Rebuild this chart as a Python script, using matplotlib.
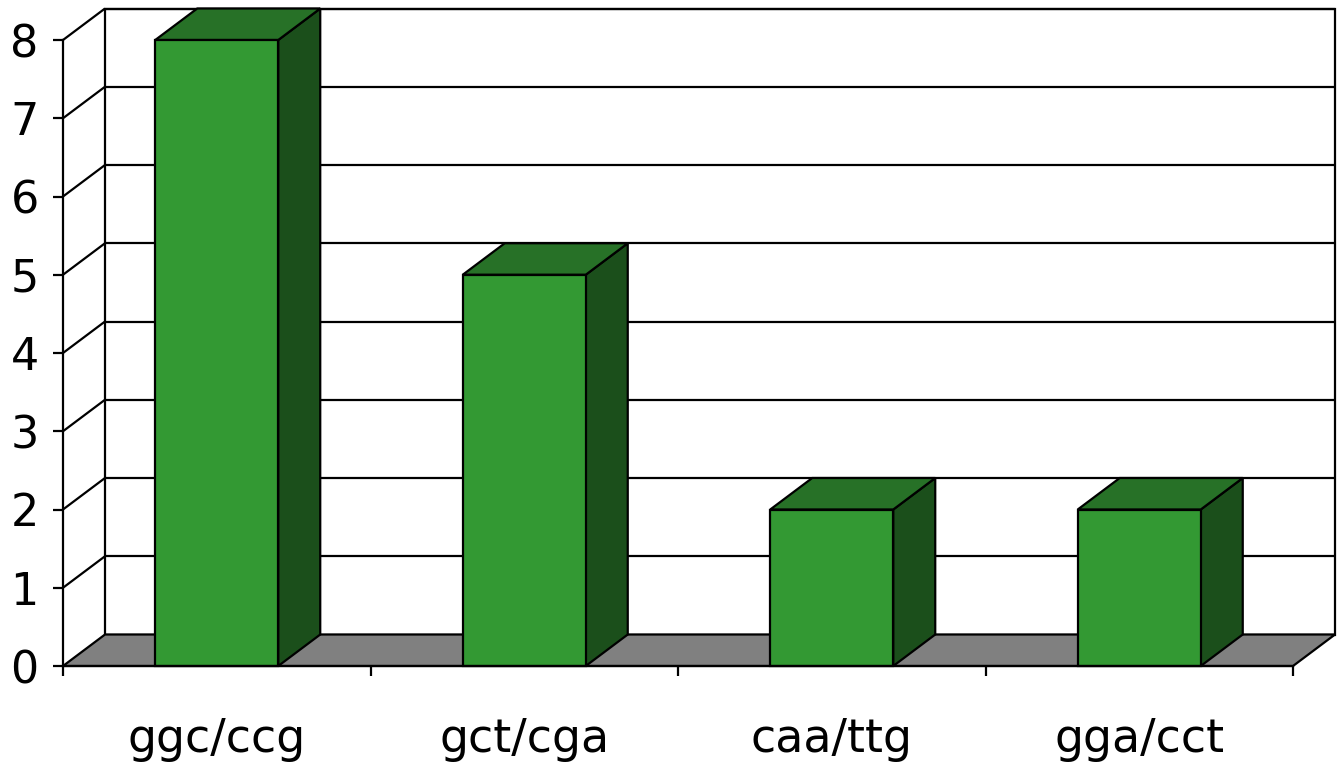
import matplotlib
matplotlib.use("Agg")
import matplotlib.pyplot as plt
from matplotlib.patches import Polygon

categories = ["ggc/ccg", "gct/cga", "caa/ttg", "gga/cct"]
values = [8, 5, 2, 2]
y_ticks = [0, 1, 2, 3, 4, 5, 6, 7, 8]

FRONT = "#339933"
TOP = "#277127"
SIDE = "#1b4f1b"
FLOOR = "#808080"
LW = 1.6

W, H = 1340, 765
fig = plt.figure(figsize=(W / 100, H / 100), dpi=100)
fig.patch.set_facecolor("white")

# axes occupy the front plane of the 3-D box
left, right, bottom, top = 63, 1293, 666, 40
ax = fig.add_axes([left / W, 1 - bottom / H, (right - left) / W, (bottom - top) / H])
n = len(categories)
ymax = max(y_ticks)
ax.set_xlim(0, n)
ax.set_ylim(0, ymax)
ax.set_facecolor("none")

# depth offset of the back wall, in data units
dx = 42 / ((right - left) / n)
dy = 31.5 / ((bottom - top) / ymax)

def poly(pts, fc, z, ec="black"):
    ax.add_patch(Polygon(pts, closed=True, facecolor=fc, edgecolor=ec,
                         linewidth=LW, zorder=z, clip_on=False,
                         joinstyle="miter"))

def line(xs, ys, z=2):
    ax.plot(xs, ys, color="black", lw=LW, zorder=z, clip_on=False,
            solid_capstyle="butt")

# back wall
poly([(dx, dy), (n + dx, dy), (n + dx, ymax + dy), (dx, ymax + dy)], "white", 1)
for k in y_ticks[1:]:
    line([dx, n + dx], [k + dy, k + dy])          # gridline on back wall
    line([0, dx], [k, k + dy])                    # side wall diagonal

# floor
poly([(0, 0), (n, 0), (n + dx, dy), (dx, dy)], FLOOR, 3)

# bars
bw = 0.4
for i, v in enumerate(values):
    x0 = i + 0.5 - bw / 2
    x1 = i + 0.5 + bw / 2
    poly([(x1, 0), (x1 + dx, dy), (x1 + dx, v + dy), (x1, v)], SIDE, 4)
    poly([(x0, v), (x1, v), (x1 + dx, v + dy), (x0 + dx, v + dy)], TOP, 4)
    poly([(x0, 0), (x1, 0), (x1, v), (x0, v)], FRONT, 5)

# axes lines and ticks
for s in ["top", "right"]:
    ax.spines[s].set_visible(False)
for s in ["left", "bottom"]:
    ax.spines[s].set_linewidth(LW)
    ax.spines[s].set_zorder(6)

ax.set_yticks(y_ticks)
ax.set_yticklabels([str(t) for t in y_ticks])
ax.tick_params(axis="y", direction="out", length=7.5, width=LW, pad=10,
               labelsize=32)
ax.set_xticks(range(n + 1))
ax.set_xticklabels([])
ax.tick_params(axis="x", direction="out", length=7.5, width=LW)
ax.set_xticks([i + 0.5 for i in range(n)], minor=True)
ax.set_xticklabels(categories, minor=True)
ax.tick_params(axis="x", which="minor", length=0, pad=37, labelsize=33)

fig.savefig("out.png", dpi=100, facecolor="white")
